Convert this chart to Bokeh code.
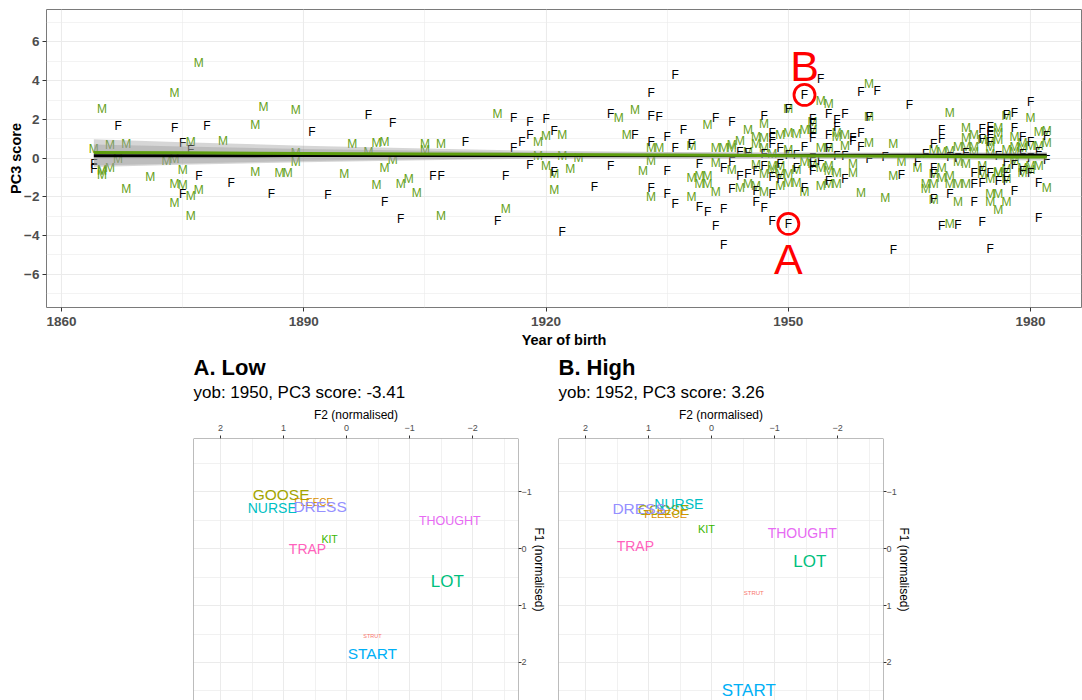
from bokeh.plotting import figure
from bokeh.layouts import column, row
from bokeh.models import (Range1d, FixedTicker, ColumnDataSource, Title, Span)
from bokeh.embed import file_html
from bokeh.resources import INLINE
from bokeh.core.properties import value

# ---------------- top panel data ----------------
f_year = [1864, 1864, 1867, 1874, 1878, 1875, 1876, 1877, 1875, 1881, 1886, 1891, 1893,
          1898, 1901, 1900, 1902, 1906, 1907, 1910, 1916, 1915, 1914, 1916, 1917, 1918,
          1918, 1918, 1920, 1921, 1921, 1922, 1926, 1928, 1931, 1928, 1933, 1936, 1933,
          1934, 1933, 1933, 1935, 1937, 1936, 1938, 1935, 1935, 1936, 1939, 1940, 1941,
          1941, 1939, 1942, 1942, 1942, 1943, 1943, 1944, 1946, 1945, 1948, 1947, 1948,
          1948, 1948, 1949, 1947, 1951, 1953, 1957, 1946, 1948, 1949, 1952, 1955, 1946,
          1947, 1948, 1950, 1952, 1954, 1953, 1953, 1953, 1955, 1956, 1957, 1956, 1955,
          1958, 1959, 1952, 1955, 1959, 1961, 1965, 1959, 1958, 1960, 1950, 1964, 1966,
          1963, 1969, 1969, 1968, 1968, 1968, 1968, 1969, 1971, 1970, 1973, 1974, 1975,
          1974, 1975, 1975, 1975, 1975, 1974, 1977, 1978, 1978, 1979, 1980, 1980, 1981,
          1982, 1973, 1974, 1975, 1977, 1973, 1974, 1976, 1977, 1978, 1978, 1979, 1980,
          1981, 1981, 1953, 1953, 1953, 1949, 1947, 1950, 1944, 1957, 1962, 1967, 1971,
          1976, 1979, 1982, 1970, 1945, 1951, 1954, 1956, 1960, 1972, 1977, 1980, 1943]
f_score = [-0.32, -0.58, 1.66, 1.53, 1.66, 0.79, 0.42, -0.95, -1.86, -1.31, -1.86, 1.36, -1.92,
           2.24, 1.83, -2.29, -3.17, -0.93, -0.93, 0.81, 2.07, -0.93, -3.25, 0.54, 0.81, 1.86,
           1.19, -0.34, 2.03, 1.39, -0.71, -3.81, -1.49, 2.29, 1.19, -0.39, 3.36, 4.27, 2.17,
           2.10, 0.83, -1.56, 1.10, 1.45, 0.51, 0.74, -0.66, -1.86, -2.36, -2.51, -2.80, -3.52,
           2.05, -0.33, -0.51, -2.65, -4.52, 1.88, -1.61, -0.95, -0.68, -0.85, -0.98, 2.18, 1.29,
           1.02, 0.72, 0.50, -0.42, -0.51, -0.68, -1.10, -1.69, -1.86, -1.10, -1.53, -1.19, -2.29,
           -2.60, -3.25, -3.41, 3.26, 4.07, 2.03, 1.78, 1.02, 2.29, 1.98, 2.27, 1.61, 1.19,
           1.02, 1.27, 0.59, 0.50, 3.41, 3.45, 2.72, 0.59, 0.88, 2.12, 2.54, -0.88, -0.20,
           -4.75, 1.46, 0.97, 0.71, -0.51, -0.85, -2.12, -3.52, -3.47, -1.86, -2.30, -3.32, -4.73,
           1.51, 1.61, 1.36, 1.19, 0.81, 1.00, 2.20, 2.33, 1.53, 1.10, 2.88, 0.81, 0.30,
           1.15, -0.76, -0.68, -0.76, -0.76, -1.36, -1.27, -1.19, -1.19, -1.69, -0.34, -0.68, -0.76,
           -1.30, -3.08, 0.00, -0.42, 1.30, -0.30, 0.20, 0.15, 0.30, 0.10, 0.05, 0.20, 0.00,
           0.10, 0.20, -0.10, 0.05, 0.25, 0.15, -0.15, 0.10, -0.05, 0.25, -0.20, 0.00, -0.20]

m_year = [1865, 1864, 1866, 1868, 1865, 1865, 1865, 1866, 1867, 1868, 1871, 1874, 1877,
          1876, 1880, 1873, 1874, 1875, 1874, 1875, 1876, 1877, 1874, 1876, 1884, 1885,
          1889, 1884, 1887, 1888, 1889, 1889, 1895, 1896, 1899, 1900, 1898, 1901, 1900,
          1899, 1902, 1903, 1904, 1905, 1905, 1907, 1907, 1914, 1915, 1919, 1919, 1920,
          1922, 1920, 1921, 1921, 1922, 1923, 1924, 1929, 1931, 1930, 1933, 1934, 1933,
          1932, 1933, 1938, 1938, 1939, 1940, 1939, 1940, 1941, 1940, 1941, 1942, 1943,
          1943, 1941, 1943, 1944, 1945, 1946, 1947, 1947, 1949, 1950, 1951, 1952, 1953,
          1953, 1954, 1955, 1956, 1957, 1956, 1955, 1954, 1947, 1946, 1948, 1949, 1954,
          1947, 1949, 1950, 1956, 1958, 1955, 1945, 1946, 1947, 1949, 1950, 1951, 1952,
          1954, 1955, 1956, 1959, 1962, 1960, 1960, 1950, 1960, 1963, 1963, 1964, 1970,
          1972, 1973, 1971, 1972, 1972, 1970, 1969, 1968, 1969, 1967, 1968, 1967, 1968,
          1970, 1971, 1972, 1970, 1971, 1970, 1976, 1976, 1976, 1973, 1974, 1975, 1975,
          1978, 1979, 1980, 1978, 1979, 1980, 1977, 1981, 1982, 1974, 1976, 1975, 1977,
          1975, 1976, 1977, 1976, 1975, 1977, 1980, 1981, 1982, 1979, 1945, 1948, 1952,
          1971, 1975, 1978, 1944, 1946, 1951, 1953, 1957, 1958, 1966, 1968, 1973, 1974,
          1977, 1979, 1981, 1948, 1950, 1955, 1969, 1972, 1976, 1978, 1980, 1982, 1938]
m_score = [2.54, 0.49, 0.68, 0.70, -0.68, -0.88, -0.60, -0.51, -0.06, -1.62, -0.98, 3.34, 4.91,
           0.85, 0.88, -0.18, -0.06, -0.64, -1.36, -1.41, -1.98, -1.66, -2.34, -3.00, 1.73, 2.63,
           2.46, -0.71, -0.80, -0.76, 0.25, -0.20, -0.85, 0.71, 0.76, 0.85, 0.30, -0.09, -0.54,
           -1.39, -1.36, -1.10, -1.81, 0.73, 0.42, 0.71, -2.98, 2.29, -2.66, 0.81, 0.10, 1.15,
           1.19, -0.39, -0.85, -1.63, 0.10, -0.59, 0.00, 2.05, 2.46, 1.21, 0.51, 0.54, -0.17,
           -0.66, -2.03, -1.05, -2.00, -0.93, -0.93, -1.36, -1.36, -1.78, 1.69, 0.51, 0.51, 0.54,
           0.68, -0.25, -0.64, -1.53, 1.47, 1.10, 1.05, 1.76, 1.19, 1.27, 1.22, 1.44, 1.44,
           1.86, 2.96, 2.80, 1.10, 1.19, 1.27, 0.50, 0.50, 0.50, -0.34, -0.42, -0.42, -0.51,
           -0.85, -0.85, -0.85, -0.76, -0.76, -0.68, -1.36, -1.44, -1.78, -1.44, -1.27, -1.27, -1.78,
           -1.44, -1.36, -1.36, -1.83, -2.08, 3.83, 2.12, 2.54, 0.76, 0.72, -0.93, -0.20, 2.35,
           1.57, 1.19, 0.59, 0.59, 1.02, 0.34, -0.51, -0.85, -1.02, -1.36, -1.36, -1.61, -2.15,
           -1.36, -1.36, -1.36, -0.93, -2.29, -3.39, 1.53, 1.27, 0.93, 0.59, 0.93, 0.85, 0.59,
           1.10, 0.76, 0.64, 0.59, 0.50, 2.07, 2.17, 1.32, 1.39, -0.85, -0.76, -1.10, -1.10,
           -1.86, -1.86, -2.29, -2.71, -2.29, -0.59, -0.42, -0.42, -1.53, -0.50, 0.30, 0.20, -0.20,
           -0.20, 0.20, -0.10, 0.90, 0.70, -0.60, -0.30, 0.60, -0.30, -0.50, 0.40, 0.30, -0.40,
           0.40, -0.80, 0.60, -0.60, 0.40, -0.40, 0.30, -0.30, -0.70, 0.30, -0.60, 0.80, 0.60]

# regression lines and confidence bands
band_year = [1864, 1875, 1890, 1905, 1920, 1935, 1950, 1965, 1982]
m_fit = [0.29, 0.27, 0.24, 0.21, 0.18, 0.15, 0.12, 0.09, 0.05]
m_upper = [0.97, 0.82, 0.64, 0.49, 0.37, 0.31, 0.27, 0.24, 0.23]
m_lower = [-0.39, -0.28, -0.16, -0.07, -0.01, -0.01, -0.03, -0.06, -0.13]
f_fit = [0.12, 0.12, 0.125, 0.13, 0.13, 0.13, 0.135, 0.14, 0.14]
f_upper = [0.70, 0.59, 0.47, 0.37, 0.29, 0.28, 0.28, 0.28, 0.31]
f_lower = [-0.46, -0.35, -0.22, -0.11, -0.03, -0.02, -0.01, 0.00, -0.03]

# highlighted speakers
hl_year = [1950, 1952]
hl_score = [-3.41, 3.26]
hl_label = ["A", "B"]
hl_label_score = [-5.24, 4.78]

x_ticks = [1860, 1890, 1920, 1950, 1980]
y_ticks = [-6, -4, -2, 0, 2, 4, 6]

# ---------------- vowel space data ----------------
vowels = ["GOOSE", "FLEECE", "NURSE", "DRESS", "THOUGHT", "KIT", "TRAP", "LOT", "STRUT", "START"]
vowel_colors = {"STRUT": "#F8766D", "FLEECE": "#D89000", "GOOSE": "#A3A500", "KIT": "#39B600",
                "LOT": "#00BF7D", "NURSE": "#00BFC4", "START": "#00B0F6", "DRESS": "#9590FF",
                "THOUGHT": "#E76BF3", "TRAP": "#FF62BC"}
a_f2 = [1.04, 0.52, 1.18, 0.42, -1.64, 0.27, 0.62, -1.60, -0.41, -0.41]
a_f1 = [-0.96, -0.81, -0.71, -0.75, -0.48, -0.17, 0.00, 0.57, 1.54, 1.85]
a_size = ["15.5px", "10px", "14px", "15.5px", "12.5px", "10.5px", "14px", "17px", "5.5px", "15.5px"]
b_f2 = [0.76, 0.73, 0.52, 1.15, -1.44, 0.08, 1.21, -1.56, -0.67, -0.59]
b_f1 = [-0.68, -0.61, -0.78, -0.71, -0.28, -0.35, -0.04, 0.22, 0.78, 2.49]
b_size = ["14px", "11px", "14px", "15.5px", "14px", "11px", "14px", "17px", "6px", "17px"]

panel_titles = ["A. Low", "B. High"]
panel_subtitles = ["yob: 1950, PC3 score: -3.41", "yob: 1952, PC3 score: 3.26"]
f2_ticks = [2, 1, 0, -1, -2]
f1_ticks = [-1, 0, 1, 2]

FONT = "Liberation Sans"
GREEN = "#66A11A"
GRID = "#EBEBEB"
BORDER = "#7A7A7A"

# ---------------- top figure ----------------
p = figure(width=1082, height=350, output_backend="svg", toolbar_location=None,
           x_range=Range1d(1858.14, 1986.3), y_range=Range1d(-7.73, 7.68),
           min_border_left=46, min_border_right=1, min_border_top=9, min_border_bottom=38)
p.background_fill_color = "white"
p.border_fill_color = "white"
p.outline_line_color = BORDER
p.outline_line_width = 1

p.xaxis.ticker = FixedTicker(ticks=x_ticks, minor_ticks=[1875, 1905, 1935, 1965])
p.yaxis.ticker = FixedTicker(ticks=y_ticks, minor_ticks=[-7, -5, -3, -1, 1, 3, 5, 7])
for ax in (p.xaxis[0], p.yaxis[0]):
    ax.axis_line_color = None
    ax.major_tick_line_color = "#333333"
    ax.major_tick_out = 4
    ax.major_tick_in = 0
    ax.minor_tick_out = 0
    ax.minor_tick_in = 0
    ax.major_label_text_font = FONT
    ax.major_label_text_font_style = "bold"
    ax.major_label_text_font_size = "13.5px"
    ax.major_label_text_color = "#4D4D4D"
    ax.axis_label_text_font = FONT
    ax.axis_label_text_font_style = "bold"
    ax.axis_label_text_font_size = "14.5px"
    ax.axis_label_text_color = "black"
p.xaxis.major_label_standoff = 5
p.xaxis.axis_label_standoff = 3
p.yaxis.major_label_standoff = 3
p.yaxis.axis_label_standoff = -3
p.xaxis.axis_label = "Year of birth"
p.yaxis.axis_label = "PC3 score"
p.xgrid.grid_line_color = GRID
p.ygrid.grid_line_color = GRID
p.xgrid.grid_line_width = 1.1
p.ygrid.grid_line_width = 1.1
p.xgrid.minor_grid_line_color = GRID
p.ygrid.minor_grid_line_color = GRID
p.xgrid.minor_grid_line_width = 0.6
p.ygrid.minor_grid_line_width = 0.6

src_f = ColumnDataSource(dict(x=f_year, y=f_score, t=["F"] * len(f_year)))
src_m = ColumnDataSource(dict(x=m_year, y=m_score, t=["M"] * len(m_year)))
p.text(x="x", y="y", text="t", source=src_m, text_color=GREEN, text_font=value(FONT),
       text_font_size="12px", text_align="center", text_baseline="middle")
p.text(x="x", y="y", text="t", source=src_f, text_color="black", text_font=value(FONT),
       text_font_size="12px", text_align="center", text_baseline="middle")

p.varea(x=band_year, y1=m_lower, y2=m_upper, fill_color="#999999", fill_alpha=0.4)
p.varea(x=band_year, y1=f_lower, y2=f_upper, fill_color="#999999", fill_alpha=0.4)
p.line(x=band_year, y=f_fit, line_color="black", line_width=3)
p.line(x=band_year, y=m_fit, line_color="#5E9E0E", line_width=3)

p.scatter(x=hl_year, y=hl_score, marker="circle", size=21, fill_color=None,
          line_color="red", line_width=2.8)
p.text(x=hl_year, y=hl_label_score, text=hl_label, text_color="red", text_font=value(FONT),
       text_font_size="43px", text_align="center", text_baseline="middle")

# ---------------- vowel space panels ----------------
def vowel_panel(f2, f1, sizes, title, subtitle, width, left, right):
    q = figure(width=width, height=350, output_backend="svg", toolbar_location=None,
               x_range=Range1d(2.43, -2.73), y_range=Range1d(2.67, -1.94),
               x_axis_location="above", y_axis_location="right",
               min_border_left=left, min_border_right=right, min_border_top=88,
               min_border_bottom=0)
    q.outline_line_color = None
    q.background_fill_color = "white"
    q.border_fill_color = "white"
    q.xaxis.ticker = FixedTicker(ticks=f2_ticks, minor_ticks=[2.5, 1.5, 0.5, -0.5, -1.5, -2.5])
    q.yaxis.ticker = FixedTicker(ticks=f1_ticks, minor_ticks=[-1.5, -0.5, 0.5, 1.5, 2.5])
    for ax in (q.xaxis[0], q.yaxis[0]):
        ax.axis_line_color = None
        ax.major_tick_line_color = "#333333"
        ax.major_tick_out = 3
        ax.major_tick_in = 0
        ax.minor_tick_out = 0
        ax.minor_tick_in = 0
        ax.major_label_text_font = FONT
        ax.major_label_text_font_size = "9px"
        ax.major_label_text_color = "#4D4D4D"
        ax.axis_label_text_font = FONT
        ax.axis_label_text_font_size = "12px"
        ax.axis_label_text_font_style = "normal"
        ax.axis_label_text_color = "black"
    q.xaxis.major_label_standoff = 5
    q.xaxis.axis_label_standoff = 0
    q.yaxis.major_label_standoff = 0
    q.yaxis.axis_label_standoff = -3
    q.xaxis.axis_label = "F2 (normalised)"
    q.yaxis.axis_label = "F1 (normalised)"
    q.yaxis.major_label_orientation = "horizontal"
    q.xgrid.grid_line_color = GRID
    q.ygrid.grid_line_color = GRID
    q.xgrid.minor_grid_line_color = GRID
    q.ygrid.minor_grid_line_color = GRID
    q.xgrid.minor_grid_line_width = 0.7
    q.ygrid.minor_grid_line_width = 0.7

    src = ColumnDataSource(dict(x=f2, y=f1, t=vowels, c=[vowel_colors[v] for v in vowels], s=sizes))
    q.text(x="x", y="y", text="t", source=src, text_color="c", text_font=value(FONT),
           text_font_size="s", text_align="center", text_baseline="middle")

    for loc, dim in ((2.43, "height"), (-2.73, "height"), (-1.94, "width")):
        q.add_layout(Span(location=loc, dimension=dim, line_color=BORDER, line_width=1))

    q.add_layout(Title(text=subtitle, text_font=FONT, text_font_size="17px",
                       text_font_style="normal", text_color="black", standoff=6), "above")
    q.add_layout(Title(text=title, text_font=FONT, text_font_size="22px",
                       text_font_style="bold", text_color="black", standoff=-5), "above")
    return q

pa = vowel_panel(a_f2, a_f1, a_size, panel_titles[0], panel_subtitles[0], 554, 193, 36)
pb = vowel_panel(b_f2, b_f1, b_size, panel_titles[1], panel_subtitles[1], 528, 4, 199)

layout = column(p, row(pa, pb, spacing=0), spacing=0)
open("out.html", "w").write(file_html(layout, INLINE))
